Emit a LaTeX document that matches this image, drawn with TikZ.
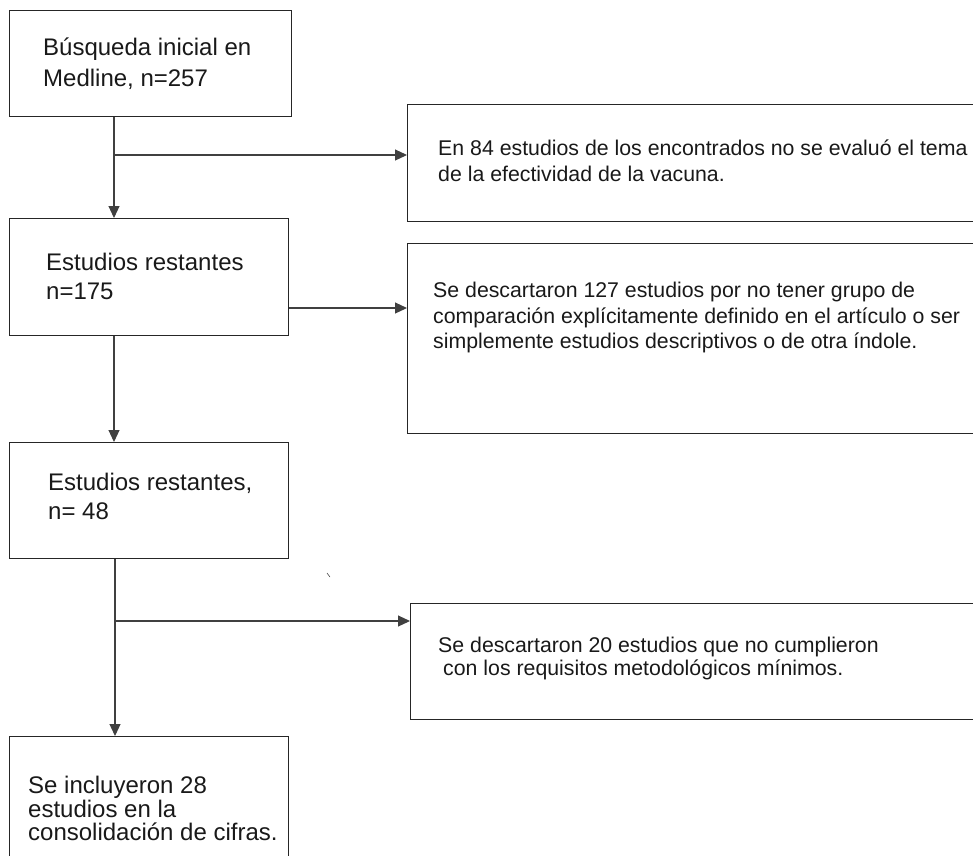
\documentclass[tikz,border=0pt]{standalone}
\usepackage{fontspec}
\setmainfont{Liberation Sans}
\usetikzlibrary{arrows.meta}
\begin{document}
\begin{tikzpicture}[x=1pt,y=-1pt,
 box/.style={draw=black!85,line width=1.1pt,rectangle,inner sep=0pt,anchor=north west},
 lt/.style={anchor=base west,inner sep=0pt,font=\fontsize{24}{29}\selectfont,text=black!90},
 rt/.style={anchor=base west,inner sep=0pt,font=\fontsize{21.3}{25}\selectfont,text=black!90},
 arr/.style={draw=black!75,line width=1.1pt,-{Triangle[length=12pt,width=11pt]}},
 ln/.style={draw=black!75,line width=1.1pt}]
\useasboundingbox (0,0) rectangle (973,855);
\clip (0,0) rectangle (973,855);
% boxes
\node[box,minimum width=282pt,minimum height=106pt] (b1) at (9,10) {};
\node[box,minimum width=600pt,minimum height=117pt] (b2) at (407,104) {};
\node[box,minimum width=279pt,minimum height=117pt] (b3) at (9,218) {};
\node[box,minimum width=600pt,minimum height=190pt] (b4) at (407,243) {};
\node[box,minimum width=279pt,minimum height=116pt] (b5) at (9,442) {};
\node[box,minimum width=600pt,minimum height=116pt] (b6) at (410,603) {};
\node[box,minimum width=279pt,minimum height=150pt] (b7) at (9,736) {};
% texts
\node[lt] (t1a) at (43,55) {Búsqueda inicial en};
\node[lt] (t1b) at (43,86) {Medline, n=257};
\node[rt] (t2a) at (438,155) {En 84 estudios de los encontrados no se evaluó el tema};
\node[rt] (t2b) at (438,181) {de la efectividad de la vacuna.};
\node[lt] (t3a) at (46,270) {Estudios restantes};
\node[lt] (t3b) at (46,299) {n=175};
\node[rt] (t4a) at (433,297) {Se descartaron 127 estudios por no tener grupo de};
\node[rt] (t4b) at (433,323) {comparación explícitamente definido en el artículo o ser};
\node[rt] (t4c) at (433,348) {simplemente estudios descriptivos o de otra índole.};
\node[lt] (t5a) at (48,490) {Estudios restantes,};
\node[lt] (t5b) at (48,519) {n= 48};
\node[rt] (t6a) at (438,652) {Se descartaron 20 estudios que no cumplieron};
\node[rt] (t6b) at (443,675) {con los requisitos metodológicos mínimos.};
\node[lt] (t7a) at (28,793) {Se incluyeron 28};
\node[lt] (t7b) at (28,817) {estudios en la};
\node[lt] (t7c) at (28,840) {consolidación de cifras.};
% connectors
\coordinate (j1) at (114,155);
\coordinate (y2) at (114,308);
\coordinate (j3) at (115,621);
\draw[ln] (b1.south -| j1) -- (j1);
\draw[arr] (j1) -- (b3.north -| j1);
\draw[arr] (j1) -- (b2.west |- j1);
\draw[arr] (b3.east |- y2) -- (b4.west |- y2);
\draw[arr] (b3.south -| j1) -- (b5.north -| j1);
\draw[ln] (b5.south -| j3) -- (j3);
\draw[arr] (j3) -- (b7.north -| j3);
\draw[arr] (j3) -- (b6.west |- j3);
% stray tick
\draw[line width=0.6pt,black!70] (327,573) -- (330,577);
\end{tikzpicture}
\end{document}
